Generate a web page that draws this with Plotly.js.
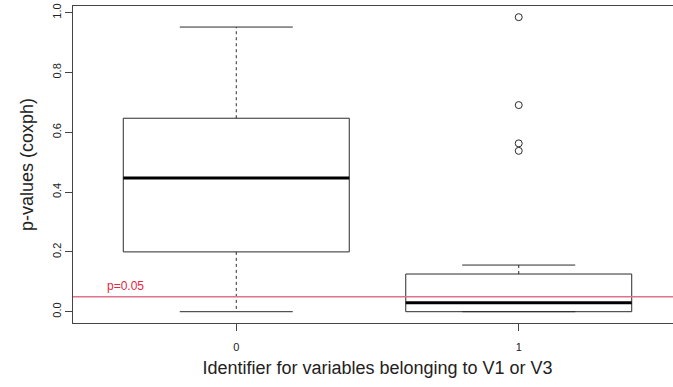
<!DOCTYPE html>
<html>
<head>
<meta charset="utf-8">
<script src="https://cdn.plot.ly/plotly-3.0.1.min.js"></script>
<style>
  html, body { margin: 0; padding: 0; overflow: hidden; background: #fff; }
  #chart { width: 690px; height: 387px; }
</style>
</head>
<body>
<div id="chart"></div>
<script>
// Group identifiers on the x axis
const groups = [0, 1];
const tickLabels = ['0', '1'];

// Five-number summaries of the coxph p-values per group
const lowerWhisker = [0.0, 0.0];
const q1 = [0.200, 0.0];
const medians = [0.447, 0.030];
const q3 = [0.647, 0.126];
const upperWhisker = [0.952, 0.156];

// Points beyond the whiskers (group 1 only)
const outlierGroup = [1, 1, 1, 1];
const outlierValues = [0.985, 0.691, 0.563, 0.538];

// Significance threshold
const threshold = 0.05;
const thresholdLabel = 'p=0.05';

const ink = '#2b2b2b';
const boxHalf = 0.4;
const capHalf = 0.2;
const traces = [];

groups.forEach((g, i) => {
  // box outline
  traces.push({
    type: 'scatter', mode: 'lines', hoverinfo: 'skip', showlegend: false,
    x: [g - boxHalf, g + boxHalf, g + boxHalf, g - boxHalf, g - boxHalf],
    y: [q1[i], q1[i], q3[i], q3[i], q1[i]],
    line: { color: ink, width: 1 }
  });
  // dashed whiskers
  traces.push({
    type: 'scatter', mode: 'lines', hoverinfo: 'skip', showlegend: false,
    x: [g, g, null, g, g],
    y: [q3[i], upperWhisker[i], null, q1[i], lowerWhisker[i]],
    line: { color: ink, width: 1, dash: '3px,3px' }
  });
  // whisker caps
  traces.push({
    type: 'scatter', mode: 'lines', hoverinfo: 'skip', showlegend: false,
    x: [g - capHalf, g + capHalf, null, g - capHalf, g + capHalf],
    y: [upperWhisker[i], upperWhisker[i], null, lowerWhisker[i], lowerWhisker[i]],
    line: { color: ink, width: 1 }
  });
  // thick median
  traces.push({
    type: 'scatter', mode: 'lines', hoverinfo: 'skip', showlegend: false,
    x: [g - boxHalf, g + boxHalf],
    y: [medians[i], medians[i]],
    line: { color: '#000', width: 3 }
  });
});

// outliers as open circles
traces.push({
  type: 'scatter', mode: 'markers', showlegend: false,
  x: outlierGroup, y: outlierValues,
  marker: { symbol: 'circle-open', size: 7, color: ink, line: { width: 1, color: ink } }
});

const layout = {
  width: 690, height: 387,
  margin: { l: 73, r: 8, t: 6, b: 64 },
  paper_bgcolor: '#fff', plot_bgcolor: '#fff',
  font: { family: '"Liberation Sans", Arial, sans-serif', color: '#222', size: 11 },
  xaxis: {
    range: [-0.578, 1.578],
    tickvals: groups, ticktext: tickLabels,
    ticks: 'outside', ticklen: 7, tickcolor: '#444', tickwidth: 1,
    ticklabelstandoff: 7,
    showgrid: false, zeroline: false,
    showline: true, mirror: true, linecolor: '#444', linewidth: 1,
    tickfont: { size: 11 },
    title: { text: 'Identifier for variables belonging to V1 or V3', font: { size: 18 }, standoff: 9 }
  },
  yaxis: {
    range: [-0.0378, 1.0224],
    tickvals: [0, 0.2, 0.4, 0.6, 0.8, 1.0],
    ticktext: ['0.0', '0.2', '0.4', '0.6', '0.8', '1.0'],
    tickangle: -90,
    ticks: 'outside', ticklen: 7, tickcolor: '#444', tickwidth: 1,
    ticklabelstandoff: -0.6,
    showgrid: false, zeroline: false,
    showline: true, mirror: true, linecolor: '#444', linewidth: 1,
    tickfont: { size: 11 },
    title: { text: 'p-values (coxph)', font: { size: 18 }, standoff: 12 }
  },
  shapes: [{
    type: 'line', xref: 'paper', yref: 'y', layer: 'above',
    x0: 0, x1: 1, y0: threshold, y1: threshold,
    line: { color: '#e2728c', width: 1.5 }
  }],
  annotations: [{
    text: thresholdLabel, xref: 'x', yref: 'y',
    x: -0.465, y: threshold, xanchor: 'left', yanchor: 'bottom', yshift: 2,
    showarrow: false, font: { color: '#e5243f', size: 12 }
  }]
};

Plotly.newPlot('chart', traces, layout, { displayModeBar: false, staticPlot: true });
</script>
</body>
</html>
